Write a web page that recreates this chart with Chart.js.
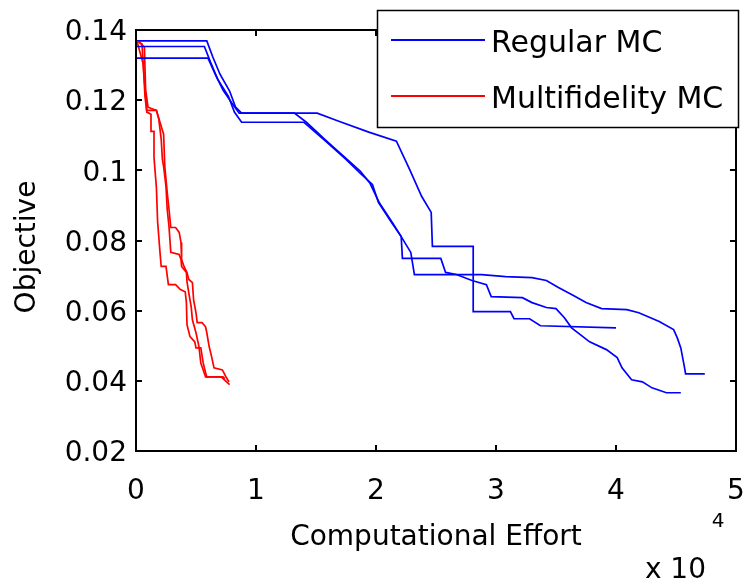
<!DOCTYPE html>
<html>
<head>
<meta charset="utf-8">
<script src="https://cdn.jsdelivr.net/npm/chart.js@4.4.1/dist/chart.umd.min.js"></script>
<style>
  html, body { margin: 0; padding: 0; background: #fff; }
</style>
</head>
<body>
<canvas id="myChart" width="743" height="580"></canvas>
<script>
// tick labels
const xTicks = [0, 10000, 20000, 30000, 40000, 50000];
const yTicks = [0.02, 0.04, 0.06, 0.08, 0.1, 0.12, 0.14];

const regularLabel = 'Regular MC';
const multiLabel = 'Multifidelity MC';

// Regular MC runs (effort, objective)
const regA_effort = [0, 5900, 6400, 7000, 7800, 8300, 8800, 15100, 16900, 19400, 21700, 22800, 23800, 24600, 24700, 28100, 28100, 31200, 31500, 32800, 33700, 40000];
const regA_obj = [0.1369, 0.1369, 0.1323, 0.1274, 0.1226, 0.1180, 0.1163, 0.1163, 0.1140, 0.1109, 0.1083, 0.1003, 0.0926, 0.0880, 0.0783, 0.0783, 0.0597, 0.0597, 0.0577, 0.0577, 0.0557, 0.0551];

const regB_effort = [0, 5700, 6200, 6800, 7700, 8200, 8800, 14000, 15800, 17500, 18700, 19700, 20200, 21300, 22100, 22200, 25400, 25800, 26700, 28000, 29200, 29600, 32200, 33000, 34200, 35000, 35700, 36300, 37800, 39200, 40100, 40500, 41300, 42200, 43000, 44200, 45400];
const regB_obj = [0.1353, 0.1353, 0.1309, 0.1260, 0.1211, 0.1166, 0.1137, 0.1137, 0.1083, 0.1031, 0.0991, 0.0960, 0.0909, 0.0851, 0.0811, 0.0749, 0.0749, 0.0709, 0.0703, 0.0686, 0.0674, 0.0640, 0.0637, 0.0623, 0.0609, 0.0606, 0.0580, 0.0551, 0.0511, 0.0489, 0.0466, 0.0437, 0.0403, 0.0397, 0.0380, 0.0366, 0.0366];

const regC_effort = [0, 6000, 6600, 7250, 8000, 8600, 13200, 14200, 15800, 17500, 18700, 19500, 20300, 21400, 22100, 22900, 23200, 28800, 30800, 33000, 34200, 35200, 36300, 37500, 38800, 40900, 41900, 43600, 44800, 45100, 45400, 45700, 45800, 47400];
const regC_obj = [0.1320, 0.1320, 0.1274, 0.1229, 0.1191, 0.1163, 0.1163, 0.1137, 0.1086, 0.1034, 0.0997, 0.0963, 0.0906, 0.0849, 0.0811, 0.0766, 0.0703, 0.0703, 0.0697, 0.0694, 0.0686, 0.0666, 0.0646, 0.0623, 0.0606, 0.0603, 0.0594, 0.0569, 0.0546, 0.0523, 0.0494, 0.0440, 0.0420, 0.0420];

// Multifidelity MC runs
const mfA_effort = [100, 600, 750, 900, 1250, 1250, 1500, 1500, 1700, 1800, 2000, 2100, 2500, 2700, 3300, 3700, 4100, 4200, 4250, 4500, 4900, 5000, 5400, 5600, 5800, 5900, 7250, 7400];
const mfA_obj = [0.1366, 0.1303, 0.1211, 0.1166, 0.1160, 0.1111, 0.1111, 0.1037, 0.0951, 0.0854, 0.0766, 0.0726, 0.0726, 0.0674, 0.0674, 0.0660, 0.0654, 0.0623, 0.0560, 0.0526, 0.0511, 0.0494, 0.0494, 0.0451, 0.0423, 0.0411, 0.0411, 0.0406];

const mfB_effort = [200, 500, 600, 800, 900, 1700, 1900, 2100, 2200, 2300, 2500, 2600, 2750, 2900, 3600, 3750, 3800, 4200, 4250, 4400, 4600, 4700, 5000, 5250, 5400, 5800, 7100, 7800];
const mfB_obj = [0.1366, 0.1360, 0.1303, 0.1211, 0.1171, 0.1171, 0.1146, 0.1089, 0.1031, 0.1011, 0.0954, 0.0889, 0.0840, 0.0766, 0.0760, 0.0746, 0.0726, 0.0709, 0.0683, 0.0651, 0.0611, 0.0574, 0.0537, 0.0497, 0.0451, 0.0411, 0.0411, 0.0389];

const mfC_effort = [250, 700, 800, 1000, 1700, 2100, 2300, 2400, 2600, 2750, 2900, 3300, 3600, 3750, 3800, 4000, 4250, 4400, 4700, 4800, 5000, 5100, 5500, 5800, 5900, 6100, 6300, 6500, 7200, 7500, 7750];
const mfC_obj = [0.1366, 0.1351, 0.1231, 0.1180, 0.1171, 0.1126, 0.1103, 0.1011, 0.0937, 0.0889, 0.0837, 0.0837, 0.0823, 0.0794, 0.0746, 0.0726, 0.0709, 0.0689, 0.0680, 0.0631, 0.0594, 0.0566, 0.0566, 0.0554, 0.0537, 0.0497, 0.0469, 0.0437, 0.0431, 0.0411, 0.0397];

const BLUE = '#0000ff';
const RED = '#ff0000';
const FONT = '"DejaVu Sans", sans-serif';

function toPoints(xs, ys) {
    return xs.map((x, i) => ({ x: x, y: ys[i] }));
}

function run(label, xs, ys, color) {
    return {
        label: label,
        data: toPoints(xs, ys),
        borderColor: color,
        backgroundColor: color,
        borderWidth: 1.7,
        showLine: true,
        pointRadius: 0,
        tension: 0,
        clip: 4
    };
}

// matlab style box, inward ticks, legend, y label and the x10^4 exponent
const matlabAxes = {
    id: 'matlabAxes',
    afterDatasetsDraw(chart) {
        const ctx = chart.ctx;
        const a = chart.chartArea;
        const xs = chart.scales.x;
        const ys = chart.scales.y;
        const tl = 6;
        ctx.save();
        ctx.strokeStyle = '#000';
        ctx.lineWidth = 2;
        ctx.strokeRect(a.left, a.top, a.right - a.left, a.bottom - a.top);
        ctx.beginPath();
        xTicks.forEach(v => {
            const px = Math.round(xs.getPixelForValue(v));
            ctx.moveTo(px, a.bottom); ctx.lineTo(px, a.bottom - tl);
            ctx.moveTo(px, a.top); ctx.lineTo(px, a.top + tl);
        });
        yTicks.forEach(v => {
            const py = Math.round(ys.getPixelForValue(v));
            ctx.moveTo(a.left, py); ctx.lineTo(a.left + tl, py);
            ctx.moveTo(a.right, py); ctx.lineTo(a.right - tl, py);
        });
        ctx.stroke();
        ctx.restore();
    },
    afterDraw(chart) {
        const ctx = chart.ctx;
        ctx.save();
        // y label
        ctx.fillStyle = '#000';
        ctx.font = '28px ' + FONT;
        ctx.textAlign = 'center';
        ctx.textBaseline = 'middle';
        ctx.translate(28, 247);
        ctx.rotate(-Math.PI / 2);
        ctx.fillText('Objective', 0, 0);
        ctx.setTransform(1, 0, 0, 1, 0, 0);
        // legend
        const bx = 377, by = 10, bw = 361, bh = 117;
        ctx.fillStyle = '#fff';
        ctx.fillRect(bx, by, bw, bh);
        ctx.strokeStyle = '#000';
        ctx.lineWidth = 1.5;
        ctx.strokeRect(bx + 0.5, by + 0.5, bw, bh);
        const entries = [[regularLabel, BLUE, 40], [multiLabel, RED, 96]];
        ctx.font = '30px ' + FONT;
        ctx.textAlign = 'left';
        entries.forEach(([txt, col, y]) => {
            ctx.strokeStyle = col;
            ctx.lineWidth = 2;
            ctx.beginPath();
            ctx.moveTo(391, y);
            ctx.lineTo(485, y);
            ctx.stroke();
            ctx.fillStyle = '#000';
            ctx.fillText(txt, 491, y + 4);
        });
        // exponent
        ctx.font = '28px ' + FONT;
        ctx.textAlign = 'right';
        ctx.fillText('x 10', 706, 571);
        ctx.font = '20px ' + FONT;
        ctx.textAlign = 'center';
        ctx.fillText('4', 718, 522);
        ctx.restore();
    }
};

Chart.defaults.font.family = FONT;
Chart.defaults.font.size = 28;
Chart.defaults.color = '#000';

const ctx = document.getElementById('myChart').getContext('2d');

window.myChart = new Chart(ctx, {
    type: 'scatter',
    data: {
        datasets: [
            run(regularLabel, regA_effort, regA_obj, BLUE),
            run(regularLabel, regB_effort, regB_obj, BLUE),
            run(regularLabel, regC_effort, regC_obj, BLUE),
            run(multiLabel, mfA_effort, mfA_obj, RED),
            run(multiLabel, mfB_effort, mfB_obj, RED),
            run(multiLabel, mfC_effort, mfC_obj, RED)
        ]
    },
    options: {
        responsive: false,
        animation: false,
        devicePixelRatio: 1,
        layout: {
            padding: { top: 30, right: 7, left: 0, bottom: 0 }
        },
        scales: {
            x: {
                type: 'linear',
                min: 0,
                max: 50000,
                afterBuildTicks: scale => {
                    scale.ticks = xTicks.map(v => ({ value: v }));
                },
                afterFit: scale => {
                    scale.height = 129;
                    scale.paddingLeft = 0;
                    scale.paddingRight = 0;
                },
                ticks: {
                    padding: 24,
                    maxRotation: 0,
                    callback: v => String(v / 10000)
                },
                grid: { display: false, drawTicks: false },
                border: { display: false },
                title: {
                    display: true,
                    text: 'Computational Effort',
                    padding: { top: 0, bottom: 25 }
                }
            },
            y: {
                type: 'linear',
                min: 0.02,
                max: 0.14,
                afterBuildTicks: scale => {
                    scale.ticks = yTicks.map(v => ({ value: v }));
                },
                afterFit: scale => {
                    scale.width = 136;
                    scale.paddingTop = 0;
                    scale.paddingBottom = 0;
                },
                ticks: {
                    padding: 9,
                    labelOffset: 3,
                    callback: v => String(+v.toFixed(2))
                },
                grid: { display: false, drawTicks: false },
                border: { display: false },
                title: { display: false }
            }
        },
        plugins: {
            legend: { display: false },
            tooltip: { enabled: false }
        }
    },
    plugins: [matlabAxes]
});
</script>
</body>
</html>
